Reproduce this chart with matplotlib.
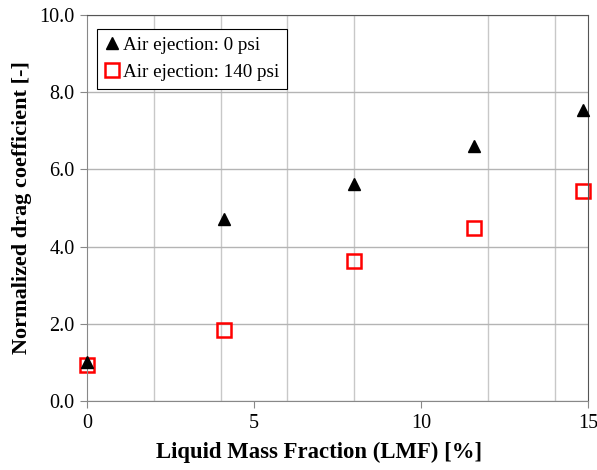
import numpy as np
import matplotlib
matplotlib.use('Agg')
import matplotlib.pyplot as plt
from matplotlib.ticker import MultipleLocator, FormatStrFormatter

# data
lmf = [0.0, 4.1, 8.0, 11.6, 14.85]
cd_0psi = [1.0, 4.72, 5.61, 6.60, 7.55]
cd_140psi = [0.92, 1.83, 3.62, 4.49, 5.44]

plt.rcParams['font.family'] = ['Liberation Serif', 'DejaVu Serif']

fig = plt.figure(figsize=(5.97, 4.70), dpi=100)
ax = fig.add_axes([87/597, 1 - 401/470, (588 - 87)/597, (401 - 15)/470])

ax.set_xlim(0, 15)
ax.set_ylim(0, 10)
ax.xaxis.set_major_locator(MultipleLocator(5))
ax.xaxis.set_minor_locator(MultipleLocator(2))
ax.yaxis.set_major_locator(MultipleLocator(2))
ax.yaxis.set_major_formatter(FormatStrFormatter('%.1f'))

ax.grid(True, which='minor', axis='x', color='#c8c8c8', lw=1)
ax.grid(True, which='major', axis='y', color='#b4b4b4', lw=1)
ax.set_axisbelow(True)

ax.plot(lmf, cd_0psi, ls='none', marker='^', ms=9, color='black',
        label='Air ejection: 0 psi', zorder=3, clip_on=False)
ax.plot(lmf, cd_140psi, ls='none', marker='s', ms=10, mfc='none', mec='red',
        mew=1.8, label='Air ejection: 140 psi', zorder=2, clip_on=False)

for s in ['left', 'bottom']:
    ax.spines[s].set_color('#888888')
for s in ['top', 'right']:
    ax.spines[s].set_color('#555555')

ax.tick_params(axis='both', which='major', direction='out', length=5,
               color='#888888', labelsize=14.5, pad=4)
ax.tick_params(axis='x', which='minor', length=0)

ax.set_xlabel('Liquid Mass Fraction (LMF) [%]', fontsize=16.4, fontweight='bold')
ax.xaxis.set_label_coords(0.463, -0.105)
ax.set_ylabel('Normalized drag coefficient [-]', fontsize=16, fontweight='bold', labelpad=5)

leg = ax.legend(loc='upper left', bbox_to_anchor=(0.019, 0.964), fontsize=13.8,
                frameon=True, fancybox=False, edgecolor='black', framealpha=1,
                handlelength=0.8, handletextpad=0.2, borderpad=0.4,
                labelspacing=0.5, borderaxespad=0)
leg.get_frame().set_linewidth(0.8)

fig.savefig('out.png', dpi=100)
